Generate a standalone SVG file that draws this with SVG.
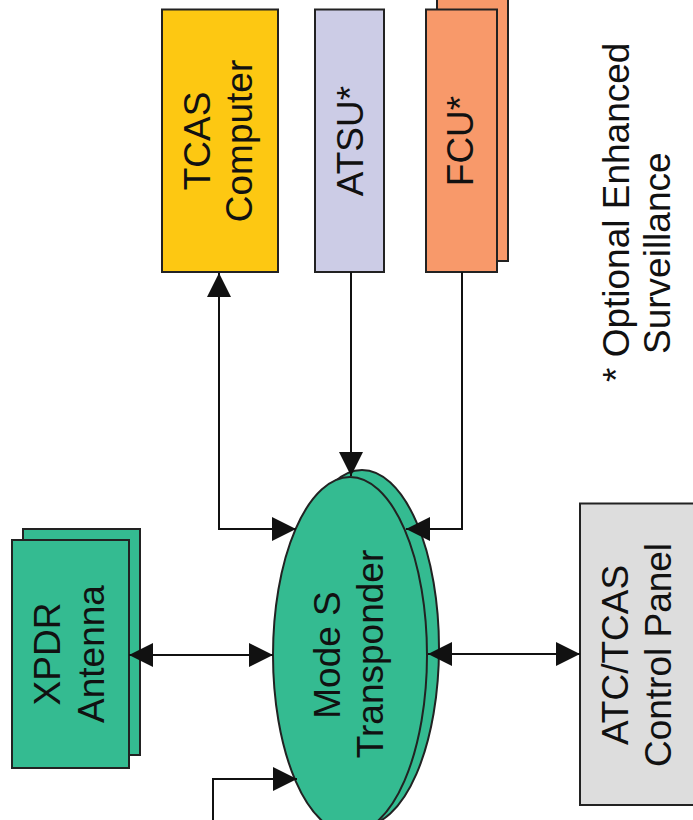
<svg xmlns="http://www.w3.org/2000/svg" width="693" height="820" viewBox="0 0 693 820">
<style>
.box{stroke:#222;stroke-width:2}
.t{font-family:"Liberation Sans",Arial,sans-serif;font-size:37px;fill:#111;text-anchor:middle}
.ts{font-family:"Liberation Sans",Arial,sans-serif;font-size:37px;fill:#111;text-anchor:start}
.c{fill:none;stroke:#111;stroke-width:2}
.green{fill:#34BB91}
</style>
<defs>
<marker id="ah" markerUnits="userSpaceOnUse" markerWidth="24" markerHeight="24" viewBox="0 0 24 24" refX="24" refY="12" orient="auto-start-reverse">
<path d="M0,0 L24,12 L0,24 z" fill="#111"/>
</marker>
</defs>
<rect width="693" height="820" fill="#fff"/>

<g id="tcas">
<rect class="box" x="162" y="9.5" width="116" height="262.5" fill="#FDC812"/>
<text class="t" transform="translate(210,141) rotate(-90)">TCAS</text>
<text class="t" transform="translate(252,141) rotate(-90)">Computer</text>
</g>

<g id="atsu">
<rect class="box" x="315" y="9.5" width="69" height="262.5" fill="#CCCCE6"/>
<text class="t" transform="translate(363,141) rotate(-90)">ATSU*</text>
</g>

<g id="fcu">
<rect class="box" x="437" y="-2" width="71" height="263" fill="#F8996A"/>
<rect class="box" x="426" y="9.5" width="71" height="262.5" fill="#F8996A"/>
<text class="t" transform="translate(473,141) rotate(-90)">FCU*</text>
</g>

<g id="xpdr">
<rect class="box green" x="23" y="529" width="117" height="226"/>
<rect class="box green" x="12" y="540" width="117" height="228"/>
<text class="t" transform="translate(60,654) rotate(-90)">XPDR</text>
<text class="t" transform="translate(104,654) rotate(-90)">Antenna</text>
</g>

<g id="transponder">
<ellipse class="box green" cx="362" cy="648" rx="77" ry="178"/>
<ellipse class="box green" cx="350" cy="655" rx="77" ry="178"/>
<text class="t" transform="translate(340,655) rotate(-90)">Mode S</text>
<text class="t" transform="translate(383,654) rotate(-90)">Transponder</text>
</g>

<g id="controlpanel">
<rect class="box" x="580" y="503.5" width="125" height="301.5" fill="#DDDDDD"/>
<text class="t" transform="translate(628,655) rotate(-90)">ATC/TCAS</text>
<text class="t" transform="translate(671,655) rotate(-90)">Control Panel</text>
</g>

<g id="footnote">
<text class="ts" transform="translate(629,382) rotate(-90)">* Optional Enhanced</text>
<text class="ts" transform="translate(670,354) rotate(-90)">Surveillance</text>
</g>

<g id="connectors">
<path class="c" d="M219,273 V529 H296" marker-start="url(#ah)" marker-end="url(#ah)"/>
<path class="c" d="M351,272 V476" marker-end="url(#ah)"/>
<path class="c" d="M462,272 V529 H406" marker-end="url(#ah)"/>
<path class="c" d="M129,655 H273" marker-start="url(#ah)" marker-end="url(#ah)"/>
<path class="c" d="M428,654 H580" marker-start="url(#ah)" marker-end="url(#ah)"/>
<path class="c" d="M213,820 V779 H297" marker-end="url(#ah)"/>
</g>
</svg>
